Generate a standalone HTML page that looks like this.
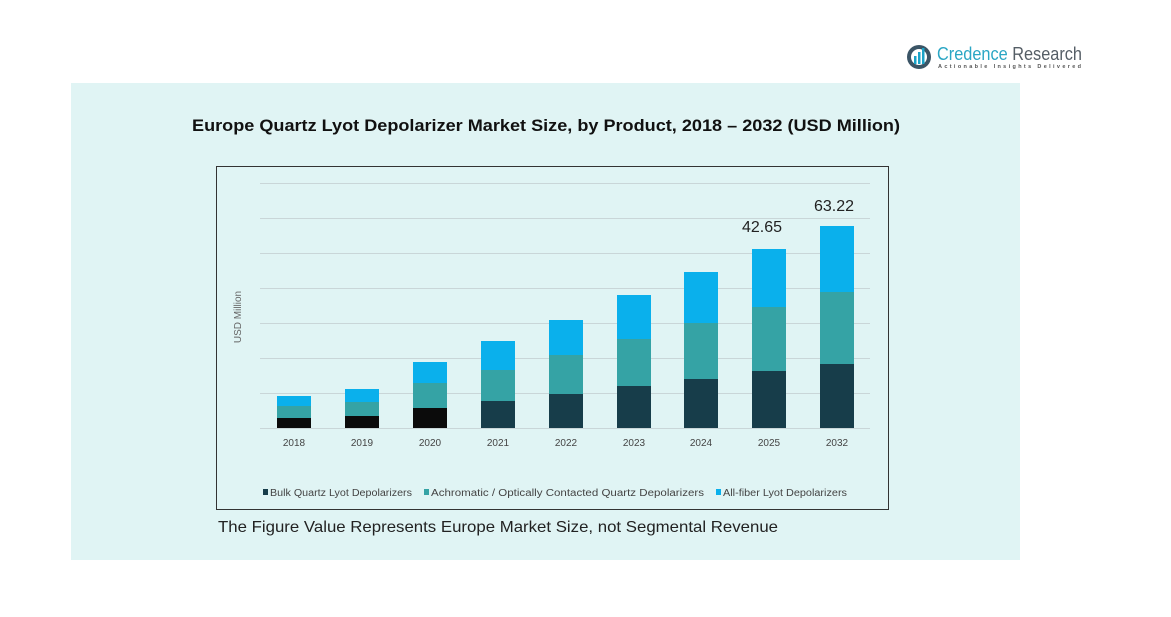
<!DOCTYPE html>
<html><head><meta charset="utf-8"><style>
html,body{margin:0;padding:0;background:#fff;width:1171px;height:617px;overflow:hidden}
</style></head><body>
<svg width="1171" height="617" xmlns="http://www.w3.org/2000/svg" font-family="Liberation Sans, sans-serif">
<rect x="0" y="0" width="1171" height="617" fill="#fff"/>
<rect x="71" y="83" width="949" height="477" fill="#e0f4f4"/>
<!-- logo -->
<circle cx="919" cy="57" r="12" fill="#3b5566"/>
<circle cx="919" cy="57" r="8" fill="#fff"/>
<rect x="914" y="56" width="2.5" height="8" fill="#1aa3c8"/>
<rect x="918" y="52" width="2.5" height="12" fill="#1aa3c8"/>
<rect x="922" y="48" width="2.5" height="16" fill="#1aa3c8"/>
<text x="937" y="60" font-size="18" fill="#2aa6c4" textLength="145" lengthAdjust="spacingAndGlyphs">Credence <tspan fill="#555e66">Research</tspan></text>
<text x="938" y="68" font-size="5.5" fill="#555" font-weight="bold" textLength="143" lengthAdjust="spacing">Actionable Insights Delivered</text>
<text x="192" y="131" font-size="17" font-weight="bold" fill="#111" textLength="708" lengthAdjust="spacingAndGlyphs">Europe Quartz Lyot Depolarizer Market Size, by Product, 2018 – 2032 (USD Million)</text>
<rect x="216.5" y="166.5" width="672" height="343" fill="#e0f4f4" stroke="#333" stroke-width="1"/>
<g stroke="#c9d6d8" stroke-width="1">
<line x1="260" x2="870" y1="183.5" y2="183.5"/><line x1="260" x2="870" y1="218.5" y2="218.5"/>
<line x1="260" x2="870" y1="253.5" y2="253.5"/><line x1="260" x2="870" y1="288.5" y2="288.5"/>
<line x1="260" x2="870" y1="323.5" y2="323.5"/><line x1="260" x2="870" y1="358.5" y2="358.5"/>
<line x1="260" x2="870" y1="393.5" y2="393.5"/><line x1="260" x2="870" y1="428.5" y2="428.5"/>
</g>
<text transform="translate(241,317) rotate(-90)" font-size="10" fill="#666" text-anchor="middle">USD Million</text>
<g>
<rect x="277" y="396" width="34" height="10" fill="#0ab0ec"/><rect x="277" y="406" width="34" height="12" fill="#35a3a5"/><rect x="277" y="418" width="34" height="10" fill="#0b0b0b"/>
<rect x="345" y="389" width="34" height="13" fill="#0ab0ec"/><rect x="345" y="402" width="34" height="14" fill="#35a3a5"/><rect x="345" y="416" width="34" height="12" fill="#0b0b0b"/>
<rect x="413" y="362" width="34" height="21" fill="#0ab0ec"/><rect x="413" y="383" width="34" height="25" fill="#35a3a5"/><rect x="413" y="408" width="34" height="20" fill="#0b0b0b"/>
<rect x="481" y="341" width="34" height="29" fill="#0ab0ec"/><rect x="481" y="370" width="34" height="31" fill="#35a3a5"/><rect x="481" y="401" width="34" height="27" fill="#173d4a"/>
<rect x="549" y="320" width="34" height="35" fill="#0ab0ec"/><rect x="549" y="355" width="34" height="39" fill="#35a3a5"/><rect x="549" y="394" width="34" height="34" fill="#173d4a"/>
<rect x="617" y="295" width="34" height="44" fill="#0ab0ec"/><rect x="617" y="339" width="34" height="47" fill="#35a3a5"/><rect x="617" y="386" width="34" height="42" fill="#173d4a"/>
<rect x="684" y="272" width="34" height="51" fill="#0ab0ec"/><rect x="684" y="323" width="34" height="56" fill="#35a3a5"/><rect x="684" y="379" width="34" height="49" fill="#173d4a"/>
<rect x="752" y="249" width="34" height="58" fill="#0ab0ec"/><rect x="752" y="307" width="34" height="64" fill="#35a3a5"/><rect x="752" y="371" width="34" height="57" fill="#173d4a"/>
<rect x="820" y="226" width="34" height="66" fill="#0ab0ec"/><rect x="820" y="292" width="34" height="72" fill="#35a3a5"/><rect x="820" y="364" width="34" height="64" fill="#173d4a"/>
</g>
<g font-size="10" fill="#444" text-anchor="middle">
<text x="294" y="446">2018</text><text x="362" y="446">2019</text><text x="430" y="446">2020</text>
<text x="498" y="446">2021</text><text x="566" y="446">2022</text><text x="634" y="446">2023</text>
<text x="701" y="446">2024</text><text x="769" y="446">2025</text><text x="837" y="446">2032</text>
</g>
<text x="762" y="232" font-size="16" fill="#222" text-anchor="middle">42.65</text>
<text x="834" y="211" font-size="16" fill="#222" text-anchor="middle">63.22</text>
<g font-size="10" fill="#444">
<rect x="263" y="489" width="5" height="6" fill="#173d4a"/><text x="270" y="496" textLength="142" lengthAdjust="spacingAndGlyphs">Bulk Quartz Lyot Depolarizers</text>
<rect x="424" y="489" width="5" height="6" fill="#35a3a5"/><text x="431" y="496" textLength="273" lengthAdjust="spacingAndGlyphs">Achromatic / Optically Contacted Quartz Depolarizers</text>
<rect x="716" y="489" width="5" height="6" fill="#0ab0ec"/><text x="723" y="496" textLength="124" lengthAdjust="spacingAndGlyphs">All-fiber Lyot Depolarizers</text>
</g>
<text x="218" y="532" font-size="16" fill="#222" textLength="560" lengthAdjust="spacingAndGlyphs">The Figure Value Represents Europe Market Size, not Segmental Revenue</text>
</svg>
</body></html>
